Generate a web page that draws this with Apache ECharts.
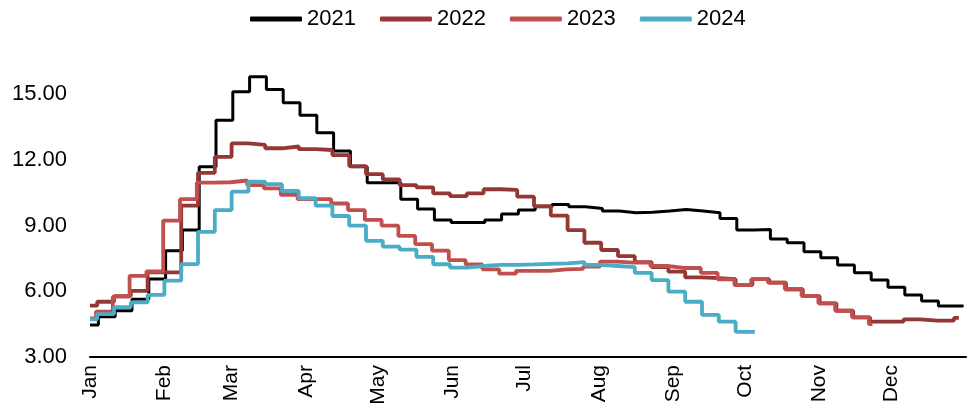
<!DOCTYPE html>
<html>
<head>
<meta charset="utf-8">
<script src="https://cdn.jsdelivr.net/npm/echarts@6/dist/echarts.min.js"></script>
<style>
  html, body { margin: 0; padding: 0; background: #fff; }
  #chart { width: 968px; height: 414px; }
</style>
</head>
<body>
<div id="chart"></div>
<script>
// Month labels and the day of year each month starts on
const months = ['Jan', 'Feb', 'Mar', 'Apr', 'May', 'Jun', 'Jul', 'Aug', 'Sep', 'Oct', 'Nov', 'Dec'];
const monthStartDay = [0, 31, 59, 90, 120, 151, 181, 212, 243, 273, 304, 334];

const years = ['2021', '2022', '2023', '2024'];
// Day of year of the first weekly revision, and the last day with data
const firstUpdateDay = [3.5, 3, 2.5, 3];
const lastDay = [364, 362, 326, 277];

// Weekly values: the first entry holds from 1 Jan until the first revision
const v2021 = [4.46, 4.84, 5.11, 5.63, 6.56, 7.85, 8.79, 11.68, 13.8, 15.1, 15.78, 15.2, 14.6, 14.03,
  13.23, 12.4, 11.68, 10.95, 10.95, 10.2, 9.75, 9.25, 9.13, 9.13, 9.25, 9.52, 9.7, 9.85, 9.96, 9.85,
  9.77, 9.66, 9.58, 9.6, 9.66, 9.73, 9.66, 9.58, 9.32, 8.79, 8.82, 8.38, 8.21, 7.8, 7.53, 7.2, 6.84,
  6.51, 6.18, 5.83, 5.55, 5.33, 5.33];
const v2022 = [5.34, 5.52, 5.78, 6.02, 6.86, 6.86, 9.9, 11.4, 12.13, 12.74, 12.67, 12.52, 12.6, 12.48,
  12.44, 12.21, 11.71, 11.34, 11.1, 10.84, 10.74, 10.46, 10.34, 10.46, 10.65, 10.62, 10.31, 9.88, 9.45,
  8.79, 8.21, 7.88, 7.6, 7.33, 7.1, 6.89, 6.63, 6.6, 6.55, 6.28, 6.55, 6.39, 6.09, 5.78, 5.45, 5.11,
  4.81, 4.61, 4.61, 4.72, 4.66, 4.66, 4.78];
const v2023 = [4.76, 5.07, 5.75, 6.7, 6.9, 9.22, 10.2, 10.95, 10.97, 11.05, 10.84, 10.69, 10.39, 10.2,
  10.2, 10.0, 9.7, 9.25, 8.99, 8.52, 8.15, 7.85, 7.42, 7.22, 7.0, 6.8, 6.93, 6.93, 7.0, 7.02, 7.12, 7.35,
  7.3, 7.3, 7.15, 7.06, 7.06, 6.84, 6.54, 6.28, 6.55, 6.39, 6.09, 5.78, 5.45, 5.11, 4.81, 4.5];
const v2024 = [4.72, 4.96, 5.27, 5.49, 5.83, 6.48, 7.24, 8.71, 9.7, 10.54, 11.0, 10.88, 10.57, 10.24,
  9.9, 9.43, 8.99, 8.3, 8.03, 7.9, 7.57, 7.23, 7.08, 7.15, 7.2, 7.2, 7.22, 7.25, 7.27, 7.33, 7.2, 7.15,
  7.1, 6.84, 6.51, 5.98, 5.52, 4.92, 4.61, 4.15];

const values = [v2021, v2022, v2023, v2024];
const colors = ['#000000', '#953735', '#C0504D', '#4BACC6'];
const widths = [3, 3.8, 3.8, 3.8];

// Turn a weekly list into [day, value] pairs for a stepped line
function weeklyPoints(vals, firstDay, endDay) {
  const pts = [[0, vals[0]]];
  for (let i = 1; i < vals.length; i++) {
    pts.push([firstDay + 7 * (i - 1), vals[i]]);
  }
  pts.push([endDay, vals[vals.length - 1]]);
  return pts;
}

const FONT = '"Liberation Sans", Arial, sans-serif';

const chart = echarts.init(document.getElementById('chart'), null, { renderer: 'canvas' });
chart.setOption({
  animation: false,
  backgroundColor: '#ffffff',
  legend: {
    top: 3,
    left: 245,
    icon: 'roundRect',
    itemWidth: 52,
    itemHeight: 5,
    itemGap: 24,
    textStyle: { fontFamily: FONT, fontSize: 22, color: '#000' },
    data: years
  },
  grid: { left: 90, right: 2, top: 61, bottom: 57 },
  xAxis: {
    type: 'value',
    min: 0,
    max: 365,
    splitLine: { show: false },
    axisTick: { show: false },
    axisLine: { show: true, lineStyle: { color: '#000', width: 2 } },
    axisLabel: {
      customValues: monthStartDay,
      rotate: 90,
      margin: 8,
      fontFamily: FONT,
      fontSize: 21,
      color: '#000',
      formatter: function (v) { return months[monthStartDay.indexOf(v)] || ''; }
    }
  },
  yAxis: {
    type: 'value',
    min: 3,
    max: 16.5,
    interval: 3,
    splitLine: { show: false },
    axisTick: { show: false },
    axisLine: { show: false },
    axisLabel: {
      margin: 23,
      fontFamily: FONT,
      fontSize: 22,
      color: '#000',
      formatter: function (v) { return v % 3 === 0 ? v.toFixed(2) : ''; }
    }
  },
  series: years.map(function (name, k) {
    return {
      name: name,
      type: 'line',
      step: 'end',
      symbol: 'none',
      color: colors[k],
      lineStyle: { color: colors[k], width: widths[k] },
      data: weeklyPoints(values[k], firstUpdateDay[k], lastDay[k])
    };
  })
});
</script>
</body>
</html>
